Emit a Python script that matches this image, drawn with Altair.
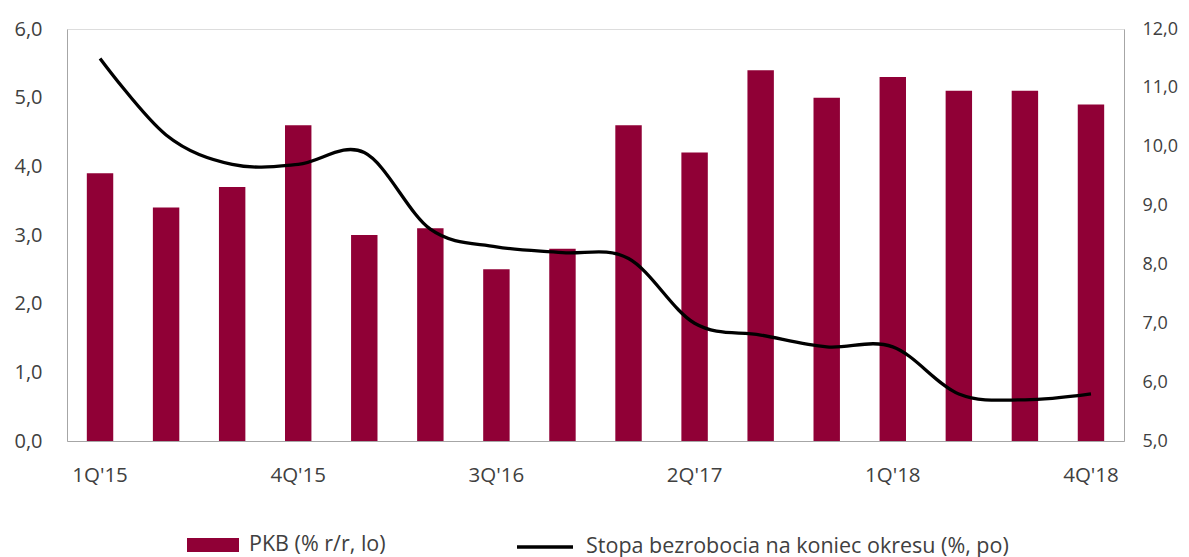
import altair as alt
import pandas as pd

quarters = ["1Q'15", "2Q'15", "3Q'15", "4Q'15",
            "1Q'16", "2Q'16", "3Q'16", "4Q'16",
            "1Q'17", "2Q'17", "3Q'17", "4Q'17",
            "1Q'18", "2Q'18", "3Q'18", "4Q'18"]
gdp = [3.9, 3.4, 3.7, 4.6, 3.0, 3.1, 2.5, 2.8, 4.6, 4.2, 5.4, 5.0, 5.3, 5.1, 5.1, 4.9]
unemployment = [11.5, 10.2, 9.7, 9.7, 9.9, 8.6, 8.3, 8.2, 8.1, 7.0, 6.8, 6.6, 6.6, 5.8, 5.7, 5.8]
shown_labels = ["1Q'15", "4Q'15", "3Q'16", "2Q'17", "1Q'18", "4Q'18"]
series_bar = "PKB (% r/r, lo)"
series_line = "Stopa bezrobocia na koniec okresu (%, po)"

df = pd.DataFrame({"q": quarters, "gdp": gdp, "unemp": unemployment,
                   "s_bar": series_bar, "s_line": series_line})

FONT = "Open Sans"
TXT = "#404040"
AX = "#a6a6a6"
BAR = "#900036"
fmt = "replace(format(datum.value, '.1f'), '.', ',')"

x = alt.X("q:N", sort=quarters, title=None,
          scale=alt.Scale(paddingInner=0.6, paddingOuter=0.3),
          axis=alt.Axis(values=shown_labels, labelAngle=0, ticks=False, tickSize=0,
                        labelPadding=24, domainColor=AX, labelFontSize=20.5,
                        labelColor=TXT, labelFont=FONT))

bars = alt.Chart(df).mark_bar().encode(
    x=x,
    y=alt.Y("gdp:Q", title=None,
            scale=alt.Scale(domain=[0, 6], nice=False),
            axis=alt.Axis(values=[0, 1, 2, 3, 4, 5, 6], labelExpr=fmt, ticks=False,
                          tickSize=0, grid=False, labelPadding=25, domainColor=AX,
                          labelFontSize=20, labelColor=TXT, labelFont=FONT,
                          orient="left")),
    color=alt.Color("s_bar:N", title=None,
                    scale=alt.Scale(domain=[series_bar], range=[BAR]),
                    legend=alt.Legend(orient="none", legendX=120, legendY=490,
                                      symbolType="M-1,-0.27H1V0.27H-1Z", symbolSize=2704,
                                      symbolStrokeWidth=0, labelOffset=10, labelLimit=600,
                                      labelFontSize=21.5, labelColor=TXT, labelFont=FONT,
                                      symbolOpacity=1)),
)

line = alt.Chart(df).mark_line(interpolate="cardinal", strokeWidth=3.3, color="black").encode(
    x=x,
    y=alt.Y("unemp:Q", title=None,
            scale=alt.Scale(domain=[5, 12], nice=False),
            axis=alt.Axis(values=[5, 6, 7, 8, 9, 10, 11, 12], labelExpr=fmt, ticks=False,
                          tickSize=0, grid=False, labelPadding=18, domainColor=AX,
                          labelFontSize=18, labelColor=TXT, labelFont=FONT,
                          orient="right")),
    stroke=alt.Stroke("s_line:N", title=None,
                      scale=alt.Scale(domain=[series_line], range=["black"]),
                      legend=alt.Legend(orient="none", legendX=448, legendY=488,
                                        symbolType="stroke", symbolSize=3136,
                                        symbolStrokeWidth=3.3, labelOffset=11, labelLimit=800,
                                        labelFontSize=21.5, labelColor=TXT, labelFont=FONT)),
)

chart = alt.layer(bars, line).resolve_scale(
    y="independent", color="independent", stroke="independent"
).properties(
    width=1057, height=412,
    autosize=alt.AutoSizeParams(type="none"),
    padding={"left": 59, "top": 21, "right": 57, "bottom": 120},
).configure_view(stroke=None).configure(font=FONT)

chart.save("out.html", embed_options={"renderer": "svg", "actions": False})
